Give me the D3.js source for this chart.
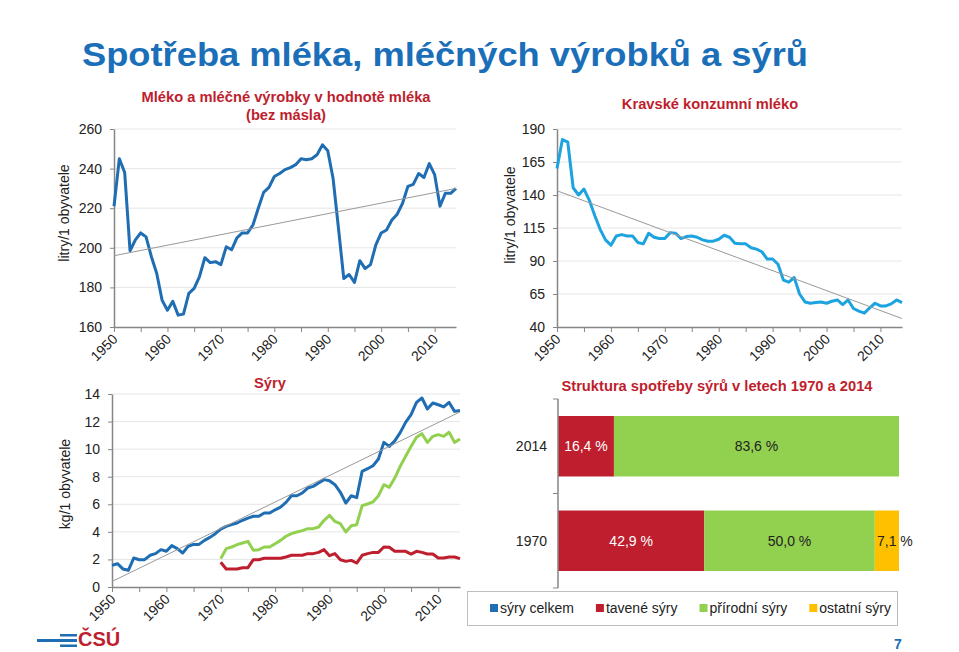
<!DOCTYPE html>
<html>
<head>
<meta charset="utf-8">
<script src="https://cdn.jsdelivr.net/npm/d3@7"></script>
<style>
    body { margin: 0; background: #fff; }
    svg { font-family: "Liberation Sans", Arial, sans-serif; }
</style>
</head>
<body>
<svg id="chart" width="959" height="652"></svg>
<script>
// Data
const years = d3.range(1950, 2015);
const cheeseYears = d3.range(1970, 2015);

// Mléko a mléčné výrobky v hodnotě mléka (litry/1 obyvatele)
const milkProducts = [
    221, 245, 238, 198.5, 204, 207.5, 205.5, 195.5, 187, 173.5,
    168.5, 173, 166, 166.5, 177, 179.5, 185.5, 195, 192.5, 193,
    191.5, 200.5, 199, 205, 207.5, 207.5, 211.5, 220, 228, 230.5,
    236, 237.5, 239.5, 240.5, 242, 245, 244.5, 245, 247, 252,
    249, 235, 210, 184.5, 186.5, 182.5, 193.5, 189.5, 191.5, 201.5,
    207.5, 209, 214, 217, 222.5, 231, 232, 237.5, 235.5, 242.5,
    237, 221, 227.5, 227.5, 230
];
const milkProductsTrend = [196, 230];

// Kravské konzumní mléko (litry/1 obyvatele)
const cowMilk = [
    160, 182, 180, 145.5, 140, 144.5, 136, 124.5, 114, 106,
    102, 109, 110, 109, 109, 104, 103, 111, 108, 107,
    107, 111.5, 111, 107, 108.5, 109, 108, 106, 105, 105,
    106.5, 109.5, 108, 103.5, 103, 103, 100, 99, 97, 91.5,
    91.5, 87.5, 75.5, 74, 77.5, 65, 59, 58, 58.5, 59,
    58, 59.5, 60.5, 57, 60.5, 54, 52, 50.5, 54.5, 58,
    56, 56, 57.5, 60.5, 58.5
];
const cowMilkTrend = [143.2, 46.4];

// Sýry (kg/1 obyvatele)
const cheeseTotal = [
    1.57, 1.69, 1.31, 1.21, 2.1, 1.98, 1.98, 2.3, 2.42, 2.71,
    2.59, 3.0, 2.78, 2.47, 2.95, 3.09, 3.09, 3.38, 3.6, 3.87,
    4.2, 4.4, 4.52, 4.64, 4.84, 5.0, 5.13, 5.13, 5.37, 5.37,
    5.6, 5.8, 6.14, 6.62, 6.62, 6.82, 7.18, 7.3, 7.54, 7.79,
    7.71, 7.42, 6.87, 6.09, 6.62, 6.48, 8.39, 8.58, 8.8, 9.28,
    10.49, 10.2, 10.6, 11.2, 11.94, 12.5, 13.39, 13.71, 12.91, 13.35,
    13.22, 13.06, 13.39, 12.74, 12.81
];
const processedCheese = [
    1.79, 1.31, 1.31, 1.31, 1.4, 1.4, 1.98, 1.98, 2.08, 2.08,
    2.08, 2.08, 2.18, 2.3, 2.3, 2.3, 2.42, 2.42, 2.51, 2.71,
    2.27, 2.42, 1.98, 1.86, 1.93, 1.74, 2.3, 2.42, 2.51, 2.51,
    2.9, 2.88, 2.59, 2.59, 2.59, 2.39, 2.59, 2.51, 2.39, 2.39,
    2.1, 2.1, 2.18, 2.18, 2.06
];
const naturalCheese = [
    2.06, 2.78, 2.9, 3.07, 3.19, 3.31, 2.66, 2.71, 2.9, 2.9,
    3.14, 3.38, 3.68, 3.87, 3.99, 4.09, 4.23, 4.23, 4.35, 4.84,
    5.2, 4.76, 4.59, 3.99, 4.45, 4.52, 5.9, 6.02, 6.17, 6.62,
    7.42, 7.23, 7.9, 8.75, 9.48, 10.2, 10.86, 11.12, 10.49, 10.93,
    11.05, 10.93, 11.22, 10.49, 10.74
];
const cheeseTrend = [0.4, 12.7];

// Struktura spotřeby sýrů (%)
const structYears = ["2014", "1970"];
const structProcessed = [16.4, 42.9];
const structNatural = [83.6, 50.0];
const structOther = [0, 7.1];
const legendLabels = ["sýry celkem", "tavené sýry", "přírodní sýry", "ostatní sýry"];

const blue = "#1f6db3", cyan = "#1ca3e0", red = "#be1e2d", green = "#92d050", yellow = "#ffc000";
const axisColor = "#868686", textColor = "#222";

const svg = d3.select("#chart");

// Main title
svg.append("text")
    .attr("x", 82).attr("y", 66)
    .attr("font-size", 34).attr("font-weight", "bold")
    .attr("textLength", 726).attr("lengthAdjust", "spacingAndGlyphs")
    .attr("fill", "#1b6fb8")
    .text("Spotřeba mléka, mléčných výrobků a sýrů");

// Line chart helper
function lineChart(cfg) {
    const x = d3.scaleLinear().domain([1950, 2014]).range([cfg.left, cfg.right]);
    const y = d3.scaleLinear().domain(cfg.domain).range([cfg.bottom, cfg.top]);
    const g = svg.append("g");

    // gridlines
    g.append("g").selectAll("line")
        .data(cfg.ticks.slice(1))
        .join("line")
        .attr("x1", cfg.left).attr("x2", cfg.right)
        .attr("y1", d => y(d)).attr("y2", d => y(d))
        .attr("stroke", "#e6e6e6");

    // axes
    const yAxis = g.append("g")
        .attr("transform", `translate(${cfg.left},0)`)
        .call(d3.axisLeft(y).tickValues(cfg.ticks).tickSize(4).tickSizeOuter(0).tickPadding(8));
    const xAxis = g.append("g")
        .attr("transform", `translate(0,${cfg.bottom})`)
        .call(d3.axisBottom(x).tickValues(d3.range(1950, 2015, 5)).tickSize(5).tickSizeOuter(0)
            .tickFormat(d => d % 10 === 0 ? d : ""));
    xAxis.selectAll("text")
        .attr("x", 0).attr("y", 0).attr("dy", 0)
        .attr("text-anchor", "end")
        .attr("transform", "translate(4,13) rotate(-45)");
    [xAxis, yAxis].forEach(a => {
        a.select(".domain").attr("stroke", axisColor).attr("stroke-width", 1.5);
        a.selectAll(".tick line").attr("stroke", axisColor);
        a.selectAll("text").attr("font-size", 14).attr("fill", textColor)
            .attr("font-family", "Liberation Sans, Arial, sans-serif");
    });

    // series
    const line = d3.line().x(d => x(d[0])).y(d => y(d[1]));
    cfg.series.forEach(s => {
        g.append("path")
            .datum(d3.zip(s.years, s.values))
            .attr("fill", "none")
            .attr("stroke", s.color)
            .attr("stroke-width", 3)
            .attr("stroke-linejoin", "round")
            .attr("d", line);
    });

    // linear trend
    g.append("line")
        .attr("x1", x(1950)).attr("y1", y(cfg.trend[0]))
        .attr("x2", x(2014)).attr("y2", y(cfg.trend[1]))
        .attr("stroke", "#999").attr("stroke-width", 1);

    // title
    cfg.title.forEach((t, i) => {
        g.append("text")
            .attr("x", cfg.titleX).attr("y", cfg.titleY + i * 18)
            .attr("text-anchor", "middle")
            .attr("font-size", 14.7).attr("font-weight", "bold")
            .attr("fill", red)
            .text(t);
    });

    // y label
    g.append("text")
        .attr("transform", `translate(${cfg.labelX},${cfg.labelY}) rotate(-90)`)
        .attr("text-anchor", "middle")
        .attr("font-size", 14).attr("fill", textColor)
        .text(cfg.yLabel);
}

lineChart({
    left: 114, right: 456, top: 129, bottom: 327,
    domain: [160, 260], ticks: d3.range(160, 261, 20),
    series: [{ years: years, values: milkProducts, color: blue }],
    trend: milkProductsTrend,
    title: ["Mléko a mléčné výrobky v hodnotě mléka", "(bez másla)"],
    titleX: 286, titleY: 102,
    yLabel: "litry/1 obyvatele", labelX: 69, labelY: 213
});

lineChart({
    left: 557, right: 902, top: 129, bottom: 327,
    domain: [40, 190], ticks: d3.range(40, 191, 25),
    series: [{ years: years, values: cowMilk, color: cyan }],
    trend: cowMilkTrend,
    title: ["Kravské konzumní mléko"],
    titleX: 710, titleY: 109,
    yLabel: "litry/1 obyvatele", labelX: 515, labelY: 215
});

lineChart({
    left: 112, right: 460, top: 394, bottom: 587,
    domain: [0, 14], ticks: d3.range(0, 15, 2),
    series: [
        { years: years, values: cheeseTotal, color: blue },
        { years: cheeseYears, values: processedCheese, color: red },
        { years: cheeseYears, values: naturalCheese, color: green }
    ],
    trend: cheeseTrend,
    title: ["Sýry"],
    titleX: 270, titleY: 388,
    yLabel: "kg/1 obyvatele", labelX: 70, labelY: 484
});

// Stacked bar chart: structure of cheese consumption
const rows = structYears.map((yr, i) => ({
    year: yr, processed: structProcessed[i], natural: structNatural[i], other: structOther[i]
}));
const keys = ["processed", "natural", "other"];
const keyColor = { processed: red, natural: green, other: yellow };
const stacked = d3.stack().keys(keys)(rows);

const xb = d3.scaleLinear().domain([0, 100]).range([558, 899]);
const yb = d3.scaleBand().domain(structYears).range([399, 588]).paddingInner(0.36).paddingOuter(0.18);

const bars = svg.append("g");
stacked.forEach(layer => {
    bars.append("g").selectAll("rect")
        .data(layer)
        .join("rect")
        .attr("x", d => xb(d[0]))
        .attr("width", d => xb(d[1]) - xb(d[0]))
        .attr("y", d => yb(d.data.year))
        .attr("height", yb.bandwidth())
        .attr("fill", keyColor[layer.key]);

    bars.append("g").selectAll("text")
        .data(layer.filter(d => d[1] - d[0] > 0))
        .join("text")
        .attr("x", d => (xb(d[0]) + xb(d[1])) / 2 + (layer.key === "other" ? 8 : 0))
        .attr("y", d => yb(d.data.year) + yb.bandwidth() / 2)
        .attr("dy", "0.35em")
        .attr("text-anchor", "middle")
        .attr("font-size", 14)
        .attr("fill", layer.key === "processed" ? "#fff" : textColor)
        .text(d => (d[1] - d[0]).toFixed(1).replace(".", ",") + " %");
});

// category axis
const [yTop, yBot] = yb.range();
bars.append("line")
    .attr("x1", xb(0)).attr("x2", xb(0)).attr("y1", yTop).attr("y2", yBot)
    .attr("stroke", axisColor).attr("stroke-width", 1.5);
bars.selectAll(".cat-tick")
    .data([yTop, (yTop + yBot) / 2, yBot])
    .join("line")
    .attr("x1", xb(0) - 5).attr("x2", xb(0))
    .attr("y1", d => d).attr("y2", d => d)
    .attr("stroke", axisColor);
bars.selectAll(".cat-label")
    .data(structYears)
    .join("text")
    .attr("x", xb(0) - 11)
    .attr("y", d => yb(d) + yb.bandwidth() / 2)
    .attr("dy", "0.35em")
    .attr("text-anchor", "end")
    .attr("font-size", 14).attr("fill", textColor)
    .text(d => d);

svg.append("text")
    .attr("x", 717).attr("y", 391)
    .attr("text-anchor", "middle")
    .attr("font-size", 14.7).attr("font-weight", "bold")
    .attr("fill", red)
    .text("Struktura spotřeby sýrů v letech 1970 a 2014");

// Legend
const legend = svg.append("g");
legend.append("rect")
    .attr("x", 467.5).attr("y", 591.5).attr("width", 430).attr("height", 34)
    .attr("fill", "#fff").attr("stroke", "#bdbdbd");
const legendColors = [blue, red, green, yellow];
let lx = 490;
legendLabels.forEach((lab, i) => {
    legend.append("rect")
        .attr("x", lx).attr("y", 604).attr("width", 8).attr("height", 8)
        .attr("fill", legendColors[i]);
    const t = legend.append("text")
        .attr("x", lx + 10).attr("y", 613)
        .attr("font-size", 14).attr("fill", textColor)
        .text(lab);
    lx += 10 + t.node().getComputedTextLength() + 22;
});

// Page number
svg.append("text")
    .attr("x", 898).attr("y", 649)
    .attr("text-anchor", "middle")
    .attr("font-size", 14).attr("font-weight", "bold")
    .attr("fill", "#1b6fb8")
    .text("7");

// ČSÚ logo
const logo = svg.append("g");
logo.append("rect").attr("x", 37).attr("y", 639).attr("width", 40).attr("height", 3).attr("fill", "#1f6eb4");
logo.append("rect").attr("x", 60).attr("y", 634).attr("width", 17).attr("height", 2.5).attr("fill", "#1f6eb4");
logo.append("rect").attr("x", 60).attr("y", 644.5).attr("width", 17).attr("height", 2.5).attr("fill", "#1f6eb4");
logo.append("text")
    .attr("x", 78).attr("y", 646)
    .attr("font-size", 20).attr("font-weight", "bold")
    .attr("fill", red)
    .text("ČSÚ");
</script>
</body>
</html>
